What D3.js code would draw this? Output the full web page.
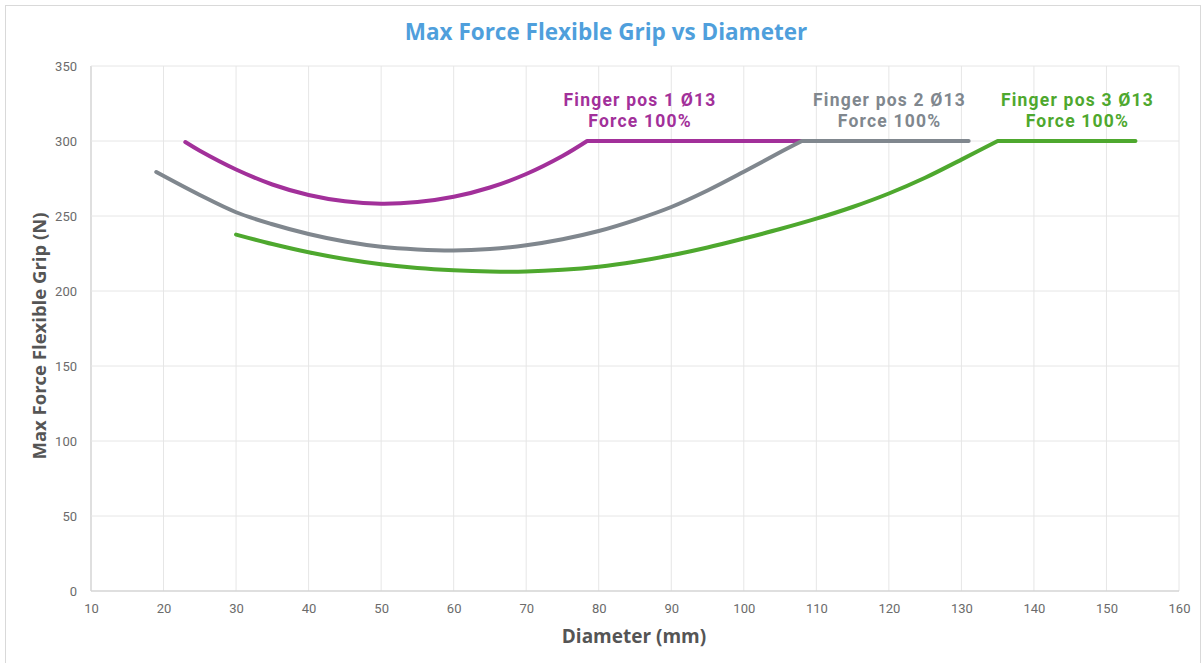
<!DOCTYPE html>
<html lang="en">
<head>
    <meta charset="UTF-8">
    <title>Max Force Flexible Grip vs Diameter</title>
    <script src="https://d3js.org/d3.v7.min.js"></script>
    <style>
        body { margin: 0; background: #fff; }
        text { font-family: "Open Sans", "Noto Sans", sans-serif; }
        .tick text { font-family: Roboto, "Liberation Sans", sans-serif; font-size: 13px; fill: #6b6b6b; }
        .series-label { font-family: Roboto, "Liberation Sans", sans-serif; font-size: 17.5px; font-weight: bold; letter-spacing: 1.2px; }
    </style>
</head>
<body>
    <div id="chart"></div>

    <script>
        // Finger pos 1 (last point = end of the 300 N plateau)
        const pos1X = [23, 25, 30, 35, 40, 45, 50, 55, 60, 65, 70, 75, 78.4, 108];
        const pos1Y = [299.3, 293.5, 281, 271, 264, 259.8, 258.2, 259.3, 262.8, 269, 278, 290, 300, 300];
        // Finger pos 2
        const pos2X = [19, 25, 30, 35, 40, 45, 50, 55, 60, 65, 70, 75, 80, 85, 90, 95, 100, 105, 108, 131];
        const pos2Y = [279.3, 264, 252.5, 244.5, 238, 233, 229.5, 227.7, 227, 228, 230.5, 234.5, 240, 247.3, 256, 267, 279.5, 292.5, 300, 300];
        // Finger pos 3
        const pos3X = [30, 35, 40, 45, 50, 55, 60, 65, 70, 75, 80, 85, 90, 95, 100, 105, 110, 115, 120, 125, 130, 135, 154];
        const pos3Y = [237.6, 231.3, 225.8, 221.3, 217.8, 215.3, 213.8, 213, 213, 214.1, 216.2, 219.5, 223.8, 229, 235, 241.3, 248.2, 256, 265, 275.5, 287.6, 300, 300];

        const seriesNames = ["Finger pos 1 Ø13", "Finger pos 2 Ø13", "Finger pos 3 Ø13"];
        const seriesSub = ["Force 100%", "Force 100%", "Force 100%"];
        const labelX = [85.7, 120.1, 146];
        const colors = ["#a2309a", "#80878e", "#4ea82e"];

        const xTicks = d3.range(10, 161, 10);
        const yTicks = d3.range(0, 351, 50);

        const W = 1203, H = 663;
        const margin = {top: 66, right: 24, bottom: 72, left: 91};
        const width = 1179 - margin.left;
        const height = 591 - margin.top;

        const svg = d3.select("#chart").append("svg")
            .attr("width", W)
            .attr("height", H);

        // outer frame
        svg.append("rect")
            .attr("x", 5.5).attr("y", 5.5)
            .attr("width", W - 8).attr("height", H - 4)
            .attr("fill", "none")
            .attr("stroke", "#d9d9d9");

        const g = svg.append("g")
            .attr("transform", `translate(${margin.left},${margin.top})`);

        const x = d3.scaleLinear().domain([10, 160]).range([0, width]);
        const y = d3.scaleLinear().domain([0, 350]).range([height, 0]);

        // grid
        g.append("g").selectAll("line").data(xTicks).join("line")
            .attr("x1", d => x(d)).attr("x2", d => x(d))
            .attr("y1", 0).attr("y2", height)
            .attr("stroke", d => d === 10 ? "#d4d4d4" : "#e6e6e6")
            .attr("stroke-width", d => d === 10 ? 1.5 : 1);
        g.append("g").selectAll("line").data(yTicks).join("line")
            .attr("x1", 0).attr("x2", width)
            .attr("y1", d => y(d)).attr("y2", d => y(d))
            .attr("stroke", d => d === 0 ? "#d4d4d4" : "#e6e6e6")
            .attr("stroke-width", d => d === 0 ? 1.5 : 1);

        // axes (labels only)
        const xAxis = g.append("g")
            .attr("transform", `translate(0,${height})`)
            .call(d3.axisBottom(x).tickValues(xTicks).tickSize(0).tickPadding(13));
        xAxis.select(".domain").remove();

        const yAxis = g.append("g")
            .call(d3.axisLeft(y).tickValues(yTicks).tickSize(0).tickPadding(14));
        yAxis.select(".domain").remove();

        // lines: smooth curve up to the knee, then a straight plateau
        const curve = d3.line()
            .x(d => x(d[0]))
            .y(d => y(d[1]))
            .curve(d3.curveCatmullRom.alpha(0.5));
        const straight = d3.line()
            .x(d => x(d[0]))
            .y(d => y(d[1]));

        const allSeries = [
            d3.zip(pos1X, pos1Y),
            d3.zip(pos2X, pos2Y),
            d3.zip(pos3X, pos3Y)
        ];

        allSeries.forEach((s, i) => {
            const bent = s.slice(0, -1);
            const flat = s.slice(-2);
            const d = curve(bent) + straight(flat).replace(/^M/, "L");
            g.append("path")
                .attr("fill", "none")
                .attr("stroke", colors[i])
                .attr("stroke-width", 4)
                .attr("stroke-linecap", "round")
                .attr("stroke-linejoin", "round")
                .attr("d", d);
        });

        // series labels, two lines each
        seriesNames.forEach((name, i) => {
            g.append("text")
                .attr("class", "series-label")
                .attr("x", x(labelX[i]))
                .attr("y", y(300) - 35)
                .attr("text-anchor", "middle")
                .attr("fill", colors[i])
                .text(name);
            g.append("text")
                .attr("class", "series-label")
                .attr("x", x(labelX[i]))
                .attr("y", y(300) - 14)
                .attr("text-anchor", "middle")
                .attr("fill", colors[i])
                .text(seriesSub[i]);
        });

        // title
        svg.append("text")
            .attr("x", 606)
            .attr("y", 40)
            .attr("text-anchor", "middle")
            .attr("fill", "#4f9fdc")
            .style("font-size", "22.5px")
            .style("font-weight", "bold")
            .text("Max Force Flexible Grip vs Diameter");

        // axis titles
        svg.append("text")
            .attr("x", 634)
            .attr("y", 643)
            .attr("text-anchor", "middle")
            .attr("fill", "#555")
            .style("font-size", "19px")
            .style("font-weight", "bold")
            .text("Diameter (mm)");

        svg.append("text")
            .attr("transform", "rotate(-90)")
            .attr("x", -336)
            .attr("y", 46)
            .attr("text-anchor", "middle")
            .attr("fill", "#555")
            .style("font-size", "18.5px")
            .style("font-weight", "bold")
            .text("Max Force Flexible Grip (N)");
    </script>
</body>
</html>
